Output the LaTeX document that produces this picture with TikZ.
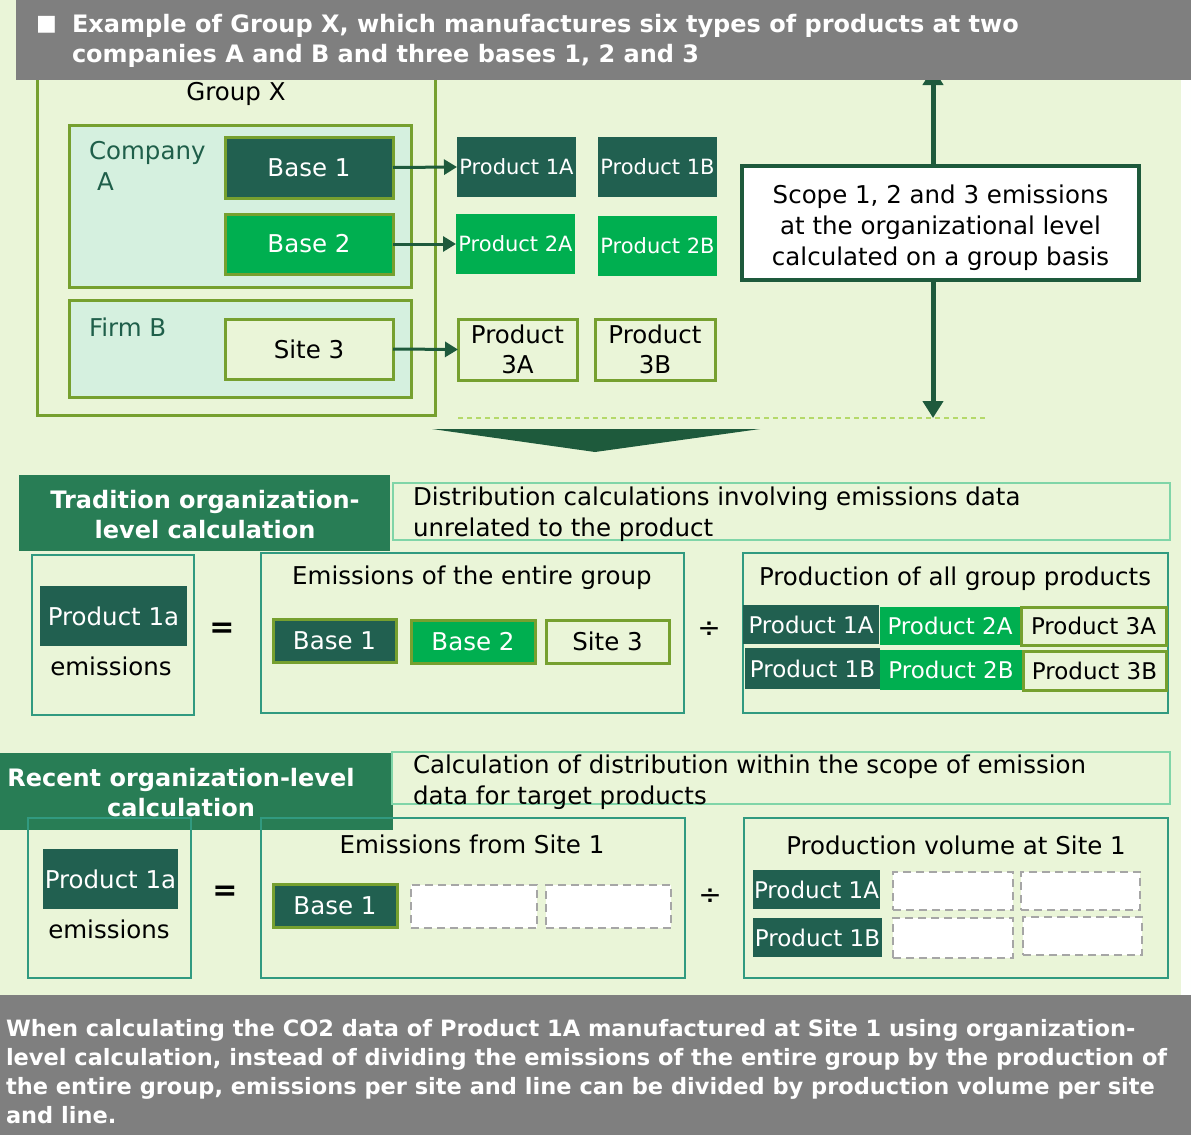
\documentclass[tikz,border=0pt]{standalone}
\usepackage{fontspec}
\setmainfont{DejaVu Sans}
\usetikzlibrary{arrows.meta}

\definecolor{bgpale}{RGB}{234,245,216}
\definecolor{greyband}{RGB}{127,127,127}
\definecolor{darkprod}{RGB}{33,96,80}
\definecolor{brightprod}{RGB}{0,175,80}
\definecolor{olive}{RGB}{118,160,47}
\definecolor{mint}{RGB}{213,240,223}
\definecolor{teal}{RGB}{49,154,128}
\definecolor{headgreen}{RGB}{40,125,85}
\definecolor{arrowgreen}{RGB}{30,90,60}
\definecolor{descline}{RGB}{128,213,168}
\definecolor{labelgreen}{RGB}{31,95,74}
\definecolor{dashgrey}{RGB}{166,166,166}
\definecolor{guideline}{RGB}{181,217,106}

% rectangle node from corner (x1,y1) to corner (x2,y2)
\newcommand\R[7]{\node[#1,anchor=north west,minimum width={#5pt-#3pt},minimum height={#6pt-#4pt}] (#2) at (#3,#4) {#7};}

\tikzset{
  base/.style={inner sep=0pt,outer sep=0pt,align=center,font=\fontsize{24.5}{30}\selectfont},
  darkbox/.style={base,fill=darkprod,text=white},
  brightbox/.style={base,fill=brightprod,text=white},
  darkolive/.style={darkbox,draw=olive,line width=3pt},
  brightolive/.style={brightbox,draw=olive,line width=3pt},
  palebox/.style={base,fill=bgpale,draw=olive,line width=3pt,text=black},
  frame/.style={base,draw=olive,line width=3pt},
  mintframe/.style={base,fill=mint,draw=olive,line width=3pt},
  tealframe/.style={base,draw=teal,line width=2.5pt},
  descframe/.style={base,draw=descline,line width=2.5pt},
  headbox/.style={base,fill=headgreen},
  headtext/.style={txt,text=white,align=center,font=\fontsize{24}{30}\bfseries\selectfont},
  dashbox/.style={base,fill=white,draw=dashgrey,line width=2.5pt,dash pattern=on 8pt off 5pt},
  conn/.style={draw=arrowgreen,line width=3pt,-{Triangle[length=13pt,width=15pt]}},
  bigconn/.style={draw=arrowgreen,line width=5pt,-{Triangle[length=17pt,width=20pt]}},
  txt/.style={inner sep=0pt,outer sep=0pt,font=\fontsize{24.5}{30}\selectfont},
  smallprod/.style={font=\fontsize{21}{26}\selectfont},
  rowprod/.style={font=\fontsize{23}{28}\selectfont},
}

\begin{document}
\begin{tikzpicture}[x=1pt,y=-1pt]
\useasboundingbox (0,0) rectangle (1191,1135);
\fill[white!97!bgpale] (0,0) rectangle (1191,1135);
\fill[bgpale] (0,0) rectangle (1181,995);

% ---------- Group X ----------
\R{frame}{gx}{37}{50}{435}{415}{}
\node[txt] (gxt) at (236,94) {Group X};

\R{mintframe}{ca}{69}{125}{411}{287}{}
\node[txt,text=labelgreen,anchor=west,align=left,font=\fontsize{24.5}{31}\selectfont] (cat) at (89,166) {Company\\\hspace{8pt}A};
\R{darkolive}{b1}{225}{137}{393}{198}{Base 1}
\R{brightolive}{b2}{225}{214}{393}{274}{Base 2}

\R{mintframe}{fb}{69}{300}{411}{397}{}
\node[txt,text=labelgreen,anchor=west] (fbt) at (89,327) {Firm B};
\R{palebox}{s3}{225}{319}{393}{379}{Site 3}

% products
\R{darkbox,smallprod}{p1a}{457}{137}{576}{197}{Product 1A}
\R{darkbox,smallprod}{p1b}{598}{137}{717}{197}{Product 1B}
\R{brightbox,smallprod}{p2a}{456}{214}{575}{274}{Product 2A}
\R{brightbox,smallprod}{p2b}{598}{216}{717}{276}{Product 2B}
\R{palebox}{p3a}{458}{319}{577}{380}{Product\\3A}
\R{palebox}{p3b}{595}{319}{715}{380}{Product\\3B}

\draw[conn] (b1.east) -- (p1a.west);
\draw[conn] (b2.east) -- (p2a.west);
\draw[conn] (s3.east) -- (p3a.west);

% scope box with its two arrows
\coordinate (uptip) at (933,68);
\coordinate (downtip) at (933,418);
\draw[bigconn] (933,170) -- (uptip);
\draw[bigconn] (933,276) -- (downtip);
\R{base,fill=white,draw=arrowgreen,line width=4pt,font=\fontsize{24.5}{31}\selectfont}{scope}{742}{166}{1139}{280}{\rule{0pt}{29pt}Scope 1, 2 and 3 emissions\\at the organizational level\\calculated on a group basis}

\coordinate (dl) at (458,418);
\coordinate (dr) at (987,418);
\draw[draw=guideline,line width=1.5pt,dash pattern=on 5pt off 4pt] (dl) -- (dr);

\fill[arrowgreen] (432,429) -- (760,429) -- (595,452) -- cycle;

% ---------- header ----------
\fill[greyband] (16,0) rectangle (1191,80);
\node[txt,text=white,anchor=west] (bul) at (36,25) {\fontsize{22}{26}\selectfont ■};
\node[txt,text=white,anchor=west,align=left,font=\fontsize{24}{30}\bfseries\selectfont] (title) at (72,41) {Example of Group X, which manufactures six types of products at two\\companies A and B and three bases 1, 2 and 3};

% ---------- traditional calculation ----------
\R{headbox}{trad}{19}{475}{390}{551}{}
\node[headtext] (tradt) at (205,515) {Tradition organization-\\level calculation};
\R{descframe}{tdesc}{393}{483}{1170}{540}{}
\node[txt,anchor=west,align=left,font=\fontsize{24.5}{31}\selectfont] (tdt) at (413,514.5) {Distribution calculations involving emissions data\\unrelated to the product};

\R{tealframe}{tl}{32}{555}{194}{715}{}
\R{darkbox}{tp}{40}{586}{187}{646}{Product 1a}
\node[txt] (tem) at (111,666) {emissions};
\node[txt,font=\fontsize{30}{34}\bfseries\selectfont] (teq) at (222,630) {=};

\R{tealframe}{tm}{261}{553}{684}{713}{}
\node[txt] (tmt) at (472,578) {Emissions of the entire group};
\R{darkolive}{tb1}{273}{619}{396}{662}{Base 1}
\R{brightolive}{tb2}{411}{620}{535}{663}{Base 2}
\R{palebox}{ts3}{546}{620}{669}{663}{Site 3}
\node[txt,font=\fontsize{28}{32}\selectfont] (tdiv) at (709,630) {÷};

\R{tealframe}{tr}{743}{553}{1168}{713}{}
\node[txt] (trt) at (955,579) {Production of all group products};
\R{darkbox,rowprod}{q1a}{743}{605}{879}{644}{Product 1A}
\R{brightbox,rowprod}{q2a}{880}{607}{1020}{645}{Product 2A}
\R{palebox,rowprod}{q3a}{1021}{607}{1166}{645}{Product 3A}
\R{darkbox,rowprod}{q1b}{745}{648}{880}{689}{Product 1B}
\R{brightbox,rowprod}{q2b}{880}{650}{1022}{690}{Product 2B}
\R{palebox,rowprod}{q3b}{1023}{651}{1166}{690}{Product 3B}

% ---------- recent calculation ----------
\R{headbox}{rec}{0}{753}{393}{830}{}
\node[headtext] (rect) at (181,793) {Recent organization-level\\calculation};
\R{descframe}{rdesc}{392}{752}{1170}{804}{}
\node[txt,anchor=west,align=left,font=\fontsize{24.5}{31}\selectfont] (rdt) at (413,782) {Calculation of distribution within the scope of emission\\data for target products};

\R{tealframe}{rl}{28}{818}{191}{978}{}
\R{darkbox}{rp}{43}{849}{178}{909}{Product 1a}
\node[txt] (rem) at (109,929) {emissions};
\node[txt,font=\fontsize{30}{34}\bfseries\selectfont] (req) at (225,893) {=};

\R{tealframe}{rm}{261}{818}{685}{978}{}
\node[txt] (rmt) at (472,844) {Emissions from Site 1};
\R{darkolive}{rb1}{273}{884}{397}{927}{Base 1}
\R{dashbox}{rx1}{411}{885}{537}{928}{}
\R{dashbox}{rx2}{546}{885}{671}{928}{}
\node[txt,font=\fontsize{28}{32}\selectfont] (rdiv) at (710,897) {÷};

\R{tealframe}{rr}{744}{818}{1168}{978}{}
\node[txt] (rrt) at (956,845) {Production volume at Site 1};
\R{darkbox,rowprod}{r1a}{753}{870}{880}{909}{Product 1A}
\R{darkbox,rowprod}{r1b}{753}{918}{882}{957}{Product 1B}
\R{dashbox}{ry1}{893}{872}{1013}{910}{}
\R{dashbox}{ry2}{1021}{872}{1140}{910}{}
\R{dashbox}{ry3}{893}{918}{1013}{958}{}
\R{dashbox}{ry4}{1023}{917}{1142}{955}{}

% ---------- closing note ----------
\fill[greyband] (0,995) rectangle (1191,1135);
\node[txt,text=white,anchor=west,align=left,font=\fontsize{22.5}{29}\bfseries\selectfont] (note) at (6,1071.5) {When calculating the CO2 data of Product 1A manufactured at Site 1 using organization-\\level calculation, instead of dividing the emissions of the entire group by the production of\\the entire group, emissions per site and line can be divided by production volume per site\\and line.};
\end{tikzpicture}
\end{document}
